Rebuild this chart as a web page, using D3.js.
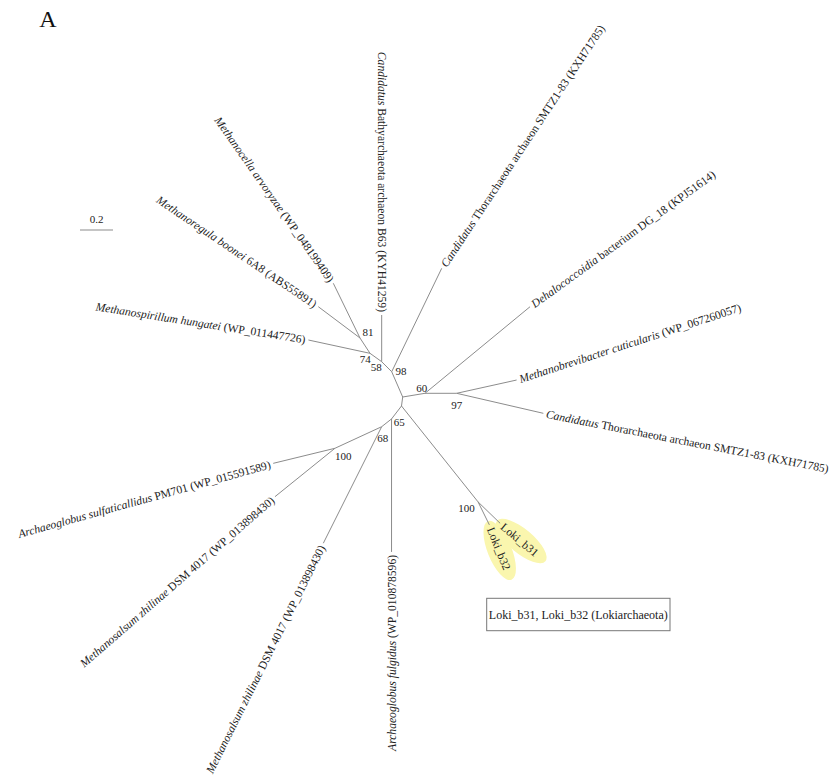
<!DOCTYPE html>
<html>
<head>
<meta charset="utf-8">
<script src="https://cdn.jsdelivr.net/npm/d3@7"></script>
<style>
  body { margin: 0; background: #fff; }
  svg text { font-family: "Liberation Serif", "Times New Roman", serif; fill: #222; }
</style>
</head>
<body>
<svg id="chart" width="829" height="780"></svg>
<script>
// Unrooted tree, drawn from a central node: each branch has a length (substitutions/site)
// and a drawing direction in degrees (0 = right, clockwise positive).
const nodeIds = ["C", "n98", "n58", "n74", "n81", "mce", "mre", "msp", "bat", "thU",
                 "n60", "deh", "n97", "mbr", "thL",
                 "x", "l100", "b31", "b32", "n65", "afu", "n68", "n100", "asu", "mzU", "mzL"];
const parentIds = [null, "C", "n98", "n58", "n74", "n81", "n81", "n74", "n58", "n98",
                   "C", "n60", "n60", "n97", "n97",
                   "C", "x", "l100", "l100", "x", "n65", "n65", "n68", "n100", "n100", "n68"];
const branchLengths = [0, 0.167, 0.086, 0.087, 0.111, 0.369, 0.316, 0.382, 0.283, 0.696,
                       0.137, 0.825, 0.192, 0.372, 0.539,
                       0.055, 0.744, 0.186, 0.155, 0.099, 0.806, 0.076, 0.312, 0.385, 0.467, 0.790];
const branchAngles = [0, -113.5, -135, -144.3, -123.2, -116, -143.1, -167.8, -90, -64.2,
                      -9.4, -39.5, 0, -12.5, 13,
                      97.6, 51.4, 44.1, 63.8, 127.6, 90, 141.8, 155.2, 166.3, 141.1, 116.6];

// Bootstrap support
const supportNodes = ["n81", "n74", "n58", "n98", "n60", "n97", "n65", "n68", "n100", "l100"];
const supportValues = [81, 74, 58, 98, 60, 97, 65, 68, 100, 100];

// Leaf labels: italic part, plain part, label direction
const leafIds = ["mce", "mre", "msp", "bat", "thU", "deh", "mbr", "thL", "b31", "b32", "afu", "mzL", "mzU", "asu"];
const leafItalic = ["Methanocella arvoryzae", "Methanoregula boonei", "Methanospirillum hungatei", "Candidatus",
                    "Candidatus", "Dehalococcoidia", "Methanobrevibacter cuticularis", "Candidatus",
                    "", "", "Archaeoglobus fulgidus", "Methanosalsum zhilinae", "Methanosalsum zhilinae",
                    "Archaeoglobus sulfaticallidus"];
const leafPlain = [" (WP_048199409)", " 6A8 (ABS55891)", "  (WP_011447726)", " Bathyarchaeota archaeon B63 (KYH41259)",
                   " Thorarchaeota archaeon SMTZ1-83 (KXH71785)", " bacterium DG_18 (KPJ51614)", " (WP_067260057)",
                   " Thorarchaeota archaeon SMTZ1-83 (KXH71785)",
                   "Loki_b31", "Loki_b32", " (WP_010878596)", " DSM 4017 (WP_013898430)", " DSM 4017 (WP_013898430)",
                   " PM701 (WP_015591589)"];
const leafLabelAngles = [-125, -146, -171, -90, -56.5, -36, -18, 11, 40, 68, 90, 116.5, 139, 164.5];
const highlighted = ["b31", "b32"];

const scaleBarValue = 0.2;
const panelLetter = "A";
const cladeNote = "Loki_b31, Loki_b32 (Lokiarchaeota)";

const svg = d3.select("#chart");
const rad = Math.PI / 180;

// Build hierarchy and place nodes in tree units
const table = nodeIds.map((id, i) => ({ id, parent: parentIds[i], length: branchLengths[i], angle: branchAngles[i] }));
const root = d3.stratify().id(d => d.id).parentId(d => d.parent)(table);
root.each(n => {
  if (!n.parent) { n.ux = 0; n.uy = 0; return; }
  const a = n.data.angle * rad;
  n.ux = n.parent.ux + n.data.length * Math.cos(a);
  n.uy = n.parent.uy + n.data.length * Math.sin(a);
});

const unitPx = 165;
const cx = 402.7, cy = 397;
const x = d3.scaleLinear().domain([0, 1]).range([cx, cx + unitPx]);
const y = d3.scaleLinear().domain([0, 1]).range([cy, cy + unitPx]);
const byId = new Map(root.descendants().map(n => [n.id, n]));

// Branches
svg.append("g")
  .attr("stroke", "#8c8c8c").attr("stroke-width", 1).attr("fill", "none")
  .selectAll("line")
  .data(root.links())
  .join("line")
  .attr("x1", d => x(d.source.ux)).attr("y1", d => y(d.source.uy))
  .attr("x2", d => x(d.target.ux)).attr("y2", d => y(d.target.uy));

// Leaf labels
const highlightG = svg.insert("g", ":first-child");
const labelG = svg.append("g").style("font-size", "11.6px").style("white-space", "pre");
leafIds.forEach((id, i) => {
  const n = byId.get(id);
  const ang = leafLabelAngles[i];
  const flip = Math.cos(ang * rad) <= 0.01;
  const gap = 3;
  const tx = x(n.ux) + gap * Math.cos(ang * rad);
  const ty = y(n.uy) + gap * Math.sin(ang * rad);
  const rot = flip ? ang + 180 : ang;
  const t = labelG.append("text")
    .attr("transform", `translate(${tx},${ty}) rotate(${rot})`)
    .attr("text-anchor", flip ? "end" : "start")
    .attr("dy", "0.35em");
  if (leafItalic[i]) t.append("tspan").style("font-style", "italic").text(leafItalic[i]);
  t.append("tspan").text(leafPlain[i]);

  if (highlighted.includes(id)) {
    const len = t.node().getComputedTextLength();
    const mid = len / 2;
    const ex = tx + (mid + 2) * Math.cos(ang * rad);
    const ey = ty + (mid + 2) * Math.sin(ang * rad);
    highlightG.append("ellipse")
      .attr("transform", `translate(${ex},${ey}) rotate(${ang})`)
      .attr("rx", mid + 9).attr("ry", 12)
      .attr("fill", "#faf6ae");
  }
});

// Bootstrap values
const supportOffset = {
  n81: [8, -2], n74: [-4.7, 9.7], n58: [-5.4, 9.8], n98: [9.3, 3.3], n60: [-3.3, -1.8],
  n97: [0, 15.7], n65: [7.7, 7.5], n68: [1, 15], n100: [8.3, 11.7], l100: [-11.5, 10]
};
svg.append("g").style("font-size", "11px").attr("text-anchor", "middle")
  .selectAll("text")
  .data(supportNodes.map((id, i) => ({ id, v: supportValues[i] })))
  .join("text")
  .attr("x", d => x(byId.get(d.id).ux) + supportOffset[d.id][0])
  .attr("y", d => y(byId.get(d.id).uy) + supportOffset[d.id][1])
  .text(d => d.v);

// Scale bar
const barX = 80, barY = 230;
svg.append("line")
  .attr("x1", barX).attr("x2", barX + x(scaleBarValue) - x(0))
  .attr("y1", barY).attr("y2", barY)
  .attr("stroke", "#8c8c8c").attr("stroke-width", 1.2);
svg.append("text")
  .attr("x", barX + (x(scaleBarValue) - x(0)) / 2).attr("y", barY - 7)
  .attr("text-anchor", "middle").style("font-size", "11px")
  .text(scaleBarValue);

// Panel letter
svg.append("text").attr("x", 48).attr("y", 27).attr("text-anchor", "middle")
  .style("font-size", "24px").style("fill", "#111").text(panelLetter);

// Clade note box
const note = svg.append("g");
note.append("rect").attr("x", 486.7).attr("y", 598.3).attr("width", 183.3).attr("height", 32.4)
  .attr("fill", "#fff").attr("stroke", "#777").attr("stroke-width", 1);
note.append("text").attr("x", 578.3).attr("y", 618.5).attr("text-anchor", "middle")
  .style("font-size", "12px").text(cladeNote);
</script>
</body>
</html>
